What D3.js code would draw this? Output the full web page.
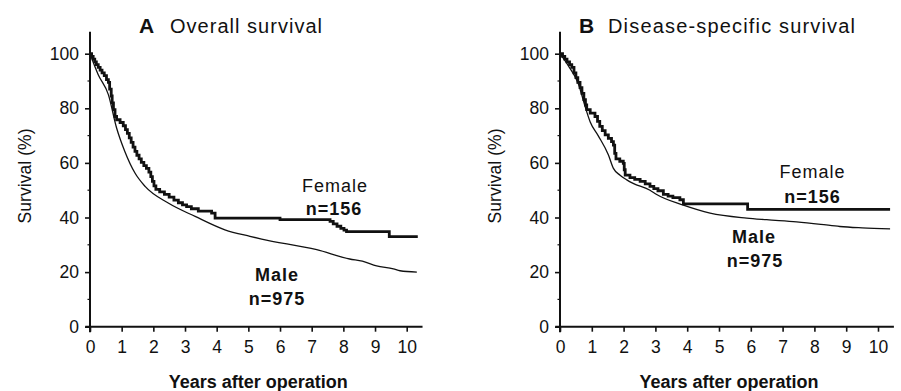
<!DOCTYPE html>
<html>
<head>
<meta charset="utf-8">
<script src="https://cdn.jsdelivr.net/npm/d3@7"></script>
<style>
  body { margin: 0; background: #fff; }
  svg { display: block; font-family: "Liberation Sans", Arial, sans-serif; }
</style>
</head>
<body>
<script>
// Kaplan-Meier estimates: [years, survival %]
const overallFemale = [
  [0, 100], [0.05, 99], [0.1, 98], [0.15, 97], [0.2, 96], [0.26, 95], [0.32, 94],
  [0.38, 93], [0.45, 92], [0.52, 90.5], [0.58, 89.5], [0.62, 87], [0.67, 84.5],
  [0.7, 82], [0.74, 79.5], [0.79, 77], [0.84, 75.8], [0.95, 74.8], [1.05, 73.6],
  [1.12, 72.2], [1.18, 70.8], [1.24, 69.2], [1.3, 67.5], [1.36, 65.8], [1.42, 64.2],
  [1.48, 62.8], [1.55, 61.5], [1.62, 60.2], [1.7, 59], [1.78, 58], [1.86, 56.6],
  [1.92, 55], [1.97, 53.2], [2.02, 51.6], [2.08, 50.3], [2.2, 49.4], [2.35, 48.5],
  [2.5, 47.5], [2.65, 46.4], [2.79, 45.4], [2.92, 44.6], [3.05, 44], [3.2, 43.2],
  [3.42, 42.3], [3.84, 41.6], [3.95, 39.8], [6.0, 39.2], [7.58, 38.6], [7.68, 37.7],
  [7.8, 36.8], [7.92, 36], [8.02, 35.4], [8.1, 34.8], [9.45, 33], [10.35, 33]
];
const overallMale = [
  [0, 100], [0.26, 92.3], [0.58, 85], [0.84, 72.8], [1.1, 64.2], [1.42, 56.3],
  [1.74, 51.4], [2.47, 45.3], [3.32, 40.4], [4.26, 35.5], [5.05, 33.1], [5.42, 32.1],
  [7.16, 28.2], [8.2, 24.8], [8.6, 24], [9.05, 22.3], [9.58, 21.2], [9.79, 20.5], [10.32, 20]
];
const specificFemale = [
  [0, 100], [0.08, 99], [0.15, 98], [0.22, 97], [0.3, 96], [0.37, 95], [0.44, 93],
  [0.5, 91.2], [0.56, 89.5], [0.63, 87.6], [0.69, 85.5], [0.75, 83.2], [0.8, 81.2],
  [0.84, 79.5], [0.95, 78.2], [1.1, 77], [1.18, 75.2], [1.25, 73.4], [1.33, 71.8],
  [1.42, 70.3], [1.52, 69], [1.62, 67.8], [1.68, 66.5], [1.72, 63.5], [1.76, 61.5],
  [1.88, 60.6], [1.99, 59.8], [2.02, 57.5], [2.05, 55.5], [2.2, 54.6], [2.35, 54],
  [2.52, 53.2], [2.68, 52.3], [2.83, 51.4], [2.95, 50.6], [3.08, 49.8], [3.25, 48.5],
  [3.4, 47.8], [3.55, 47.3], [3.77, 46.5], [3.88, 45], [5.9, 43], [10.38, 43]
];
const specificMale = [
  [0, 100], [0.26, 95.6], [0.58, 88.9], [0.79, 80.6], [0.95, 75], [1.2, 70], [1.52, 63],
  [1.68, 58], [1.89, 55.5], [2.1, 53.8], [2.3, 52.5], [2.83, 50], [3.04, 48.4], [3.88, 44.5],
  [4.72, 41.6], [5.87, 39.8], [6.5, 39.2], [7.44, 38.4], [8.2, 37.5], [8.8, 36.7],
  [9.5, 36.2], [10.38, 35.8]
];

const yearTicks = [0, 1, 2, 3, 4, 5, 6, 7, 8, 9, 10];
const survivalTicks = [0, 20, 40, 60, 80, 100];
const survivalMinor = [10, 30, 50, 70, 90];

const panels = [
  {
    letter: "A", title: "Overall survival", titleX: 139, textX: 170, titleLen: 152,
    x0: 90, x10: 406.7, female: overallFemale, male: overallMale,
    femaleLabel: [335, 191.5, 334, 215], maleLabel: [277, 280.5, 277, 305]
  },
  {
    letter: "B", title: "Disease-specific survival", titleX: 579, textX: 608, titleLen: 247,
    x0: 560, x10: 878, female: specificFemale, male: specificMale,
    femaleLabel: [812.5, 178.3, 812.5, 202.7], maleLabel: [754, 242.5, 755, 266.5]
  }
];

const width = 901, height = 391;
const ink = "#111";

const svg = d3.select("body").append("svg")
  .attr("width", width)
  .attr("height", height)
  .attr("viewBox", [0, 0, width, height]);

const y = d3.scaleLinear().domain([0, 100]).range([326.7, 53.7]);

panels.forEach(p => {
  const x = d3.scaleLinear().domain([0, 10]).range([p.x0, p.x10]);
  const g = svg.append("g");

  // y axis
  const yAxis = g.append("g")
    .attr("transform", `translate(${p.x0},0)`)
    .call(d3.axisLeft(y).tickValues(survivalTicks).tickSize(5).tickPadding(6));
  yAxis.select(".domain").remove();
  yAxis.selectAll(".tick line").attr("stroke", ink).attr("stroke-width", 1.6);
  yAxis.selectAll(".tick text")
    .attr("fill", ink)
    .attr("font-size", 17.5)
    .attr("font-family", "Liberation Sans, Arial, sans-serif");
  g.append("g").selectAll("line")
    .data(survivalMinor)
    .join("line")
    .attr("x1", p.x0 - 2.5).attr("x2", p.x0)
    .attr("y1", d => y(d)).attr("y2", d => y(d))
    .attr("stroke", ink).attr("stroke-width", 1.2);

  // x axis
  const xAxis = g.append("g")
    .attr("transform", `translate(0,${y(0)})`)
    .call(d3.axisBottom(x).tickValues(yearTicks).tickSize(5).tickPadding(9));
  xAxis.select(".domain").remove();
  xAxis.selectAll(".tick line").attr("stroke", ink).attr("stroke-width", 1.6);
  xAxis.selectAll(".tick text")
    .attr("fill", ink)
    .attr("font-size", 17.5)
    .attr("font-family", "Liberation Sans, Arial, sans-serif");

  // axis lines, drawn a bit past the data range like the original
  g.append("line")
    .attr("x1", p.x0).attr("x2", p.x0)
    .attr("y1", y(108)).attr("y2", y(-2))
    .attr("stroke", ink).attr("stroke-width", 2);
  g.append("line")
    .attr("x1", x(-0.15)).attr("x2", x(10.5))
    .attr("y1", y(0)).attr("y2", y(0))
    .attr("stroke", ink).attr("stroke-width", 2);

  // curves
  const step = d3.line()
    .x(d => x(d[0])).y(d => y(d[1]))
    .curve(d3.curveStepAfter);
  const smooth = d3.line()
    .x(d => x(d[0])).y(d => y(d[1]))
    .curve(d3.curveMonotoneX);

  g.append("path")
    .attr("d", smooth(p.male))
    .attr("fill", "none")
    .attr("stroke", ink)
    .attr("stroke-width", 1.3);
  g.append("path")
    .attr("d", step(p.female))
    .attr("fill", "none")
    .attr("stroke", ink)
    .attr("stroke-width", 2.8);

  // titles
  g.append("text")
    .attr("x", p.titleX).attr("y", 33)
    .attr("font-size", 21).attr("font-weight", "bold")
    .attr("fill", ink)
    .text(p.letter);
  g.append("text")
    .attr("x", p.textX).attr("y", 32.5)
    .attr("font-size", 20)
    .attr("fill", ink)
    .attr("textLength", p.titleLen)
    .attr("lengthAdjust", "spacing")
    .text(p.title);

  // y label
  g.append("text")
    .attr("transform", `translate(${p.x0 - 59},176) rotate(-90)`)
    .attr("text-anchor", "middle")
    .attr("font-size", 17.5)
    .attr("fill", ink)
    .attr("textLength", 95)
    .attr("lengthAdjust", "spacing")
    .text("Survival  (%)");

  // x label
  g.append("text")
    .attr("x", (p.x0 + x(10.5)) / 2 + 2).attr("y", 387.5)
    .attr("text-anchor", "middle")
    .attr("font-size", 18).attr("font-weight", "bold")
    .attr("fill", ink)
    .text("Years after operation");

  // group labels
  const fl = p.femaleLabel, ml = p.maleLabel;
  const lab = (t, cx, cy, w) => g.append("text")
    .attr("x", cx).attr("y", cy)
    .attr("text-anchor", "middle")
    .attr("font-size", 18)
    .attr("font-weight", w)
    .attr("letter-spacing", 1)
    .attr("fill", ink)
    .text(t);
  lab("Female", fl[0], fl[1], "normal");
  lab("n=156", fl[2], fl[3], "bold");
  lab("Male", ml[0], ml[1], "bold");
  lab("n=975", ml[2], ml[3], "bold");
});
</script>
</body>
</html>
